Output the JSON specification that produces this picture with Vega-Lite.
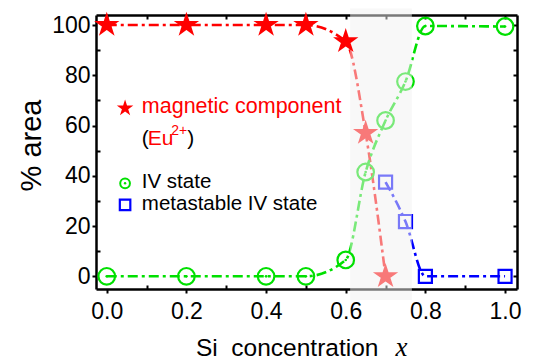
{
  "$schema": "https://vega.github.io/schema/vega-lite/v6.json",
  "width": 421,
  "height": 274,
  "autosize": {"type": "none"},
  "padding": {"left": 96, "top": 15, "right": 16, "bottom": 71},
  "background": "white",
  "config": {
    "view": {"stroke": null},
    "font": "Liberation Sans",
    "axis": {
      "grid": false,
      "zindex": 0,
      "labelFont": "Liberation Sans",
      "titleFont": "Liberation Sans",
      "labelColor": "#000000",
      "titleColor": "#000000",
      "tickColor": "#000000",
      "domainColor": "#000000",
      "labelFlush": false,
      "labelOverlap": false
    }
  },
  "datasets": {
    "fractions": [
      {"x": 0.0, "pct": 100, "series": "magnetic component"},
      {"x": 0.2, "pct": 100, "series": "magnetic component"},
      {"x": 0.4, "pct": 100, "series": "magnetic component"},
      {"x": 0.5, "pct": 100, "series": "magnetic component"},
      {"x": 0.6, "pct": 93.5, "series": "magnetic component"},
      {"x": 0.65, "pct": 57, "series": "magnetic component"},
      {"x": 0.7, "pct": 0, "series": "magnetic component"},
      {"x": 0.0, "pct": 0, "series": "IV state"},
      {"x": 0.2, "pct": 0, "series": "IV state"},
      {"x": 0.4, "pct": 0, "series": "IV state"},
      {"x": 0.5, "pct": 0, "series": "IV state"},
      {"x": 0.6, "pct": 6.5, "series": "IV state"},
      {"x": 0.65, "pct": 41.5, "series": "IV state"},
      {"x": 0.7, "pct": 62, "series": "IV state"},
      {"x": 0.75, "pct": 77.5, "series": "IV state"},
      {"x": 0.8, "pct": 99.6, "series": "IV state"},
      {"x": 1.0, "pct": 99.4, "series": "IV state"},
      {"x": 0.7, "pct": 37.5, "series": "metastable IV state"},
      {"x": 0.75, "pct": 21.8, "series": "metastable IV state"},
      {"x": 0.8, "pct": 0, "series": "metastable IV state"},
      {"x": 1.0, "pct": 0, "series": "metastable IV state"}
    ]
  },
  "data": {"name": "fractions"},
  "resolve": {"axis": {"x": "independent", "y": "independent"}},
  "layer": [
    {
      "mark": {"type": "line", "interpolate": "monotone", "strokeWidth": 2.6, "strokeDash": [10, 4, 3, 4]},
      "encoding": {
        "x": {
          "field": "x", "type": "quantitative",
          "scale": {"domain": [-0.027, 1.03], "nice": false, "zero": false},
          "axis": {
            "orient": "bottom", "values": [0, 0.2, 0.4, 0.6, 0.8, 1.0], "format": ".1f",
            "labelFontSize": 23, "labelPadding": 7, "tickSize": 4, "tickWidth": 2, "domainWidth": 2.5,
            "title": "Si\u00a0\u00a0concentration", "titleFontSize": 24.5, "titleFontWeight": "normal",
            "titleX": 190.7, "titleY": 66, "titleBaseline": "alphabetic", "titleAlign": "center"
          }
        },
        "y": {
          "field": "pct", "type": "quantitative",
          "scale": {"domain": [-5.05, 103.98], "nice": false, "zero": false},
          "axis": {
            "orient": "left", "values": [0, 20, 40, 60, 80, 100], "format": "d",
            "labelFontSize": 23, "labelPadding": 2, "tickSize": 4, "tickWidth": 2, "domainWidth": 2.5,
            "title": "% area", "titleFontSize": 29, "titleFontWeight": "normal", "titleAngle": -90,
            "titleX": -56, "titleY": 130, "titleBaseline": "alphabetic", "titleAlign": "center"
          }
        },
        "color": {
          "field": "series", "type": "nominal",
          "scale": {"domain": ["magnetic component", "IV state", "metastable IV state"], "range": ["#ff0000", "#00e000", "#0000ff"]},
          "legend": null
        }
      }
    },
    {
      "transform": [{"filter": "datum.x > 0.62 && datum.x < 0.76"}],
      "mark": {"type": "point", "strokeWidth": 2.2, "opacity": 1},
      "encoding": {
        "x": {
          "field": "x", "type": "quantitative",
          "scale": {"domain": [-0.027, 1.03], "nice": false, "zero": false},
          "axis": {
            "orient": "top", "values": [0, 0.1, 0.2, 0.3, 0.4, 0.5, 0.6, 0.7, 0.8, 0.9, 1.0],
            "labels": false, "tickSize": -4, "tickWidth": 2, "domainWidth": 2.5, "title": null
          }
        },
        "y": {
          "field": "pct", "type": "quantitative",
          "scale": {"domain": [-5.05, 103.98], "nice": false, "zero": false},
          "axis": {
            "orient": "right", "values": [0, 10, 20, 30, 40, 50, 60, 70, 80, 90, 100],
            "labels": false, "tickSize": -4, "tickWidth": 2, "domainWidth": 2.5, "title": null
          }
        },
        "shape": {
          "field": "series", "type": "nominal",
          "scale": {"domain": ["magnetic component", "IV state", "metastable IV state"], "range": ["M0,-1L0.2245,-0.309L0.951,-0.309L0.363,0.118L0.588,0.809L0,0.382L-0.588,0.809L-0.363,0.118L-0.951,-0.309L-0.2245,-0.309Z", "circle", "square"]},
          "legend": null
        },
        "size": {
          "field": "series", "type": "nominal",
          "scale": {"domain": ["magnetic component", "IV state", "metastable IV state"], "range": [380, 170, 190]},
          "legend": null
        },
        "stroke": {
          "field": "series", "type": "nominal",
          "scale": {"domain": ["magnetic component", "IV state", "metastable IV state"], "range": ["#ff0000", "#00e000", "#0000ff"]},
          "legend": null
        },
        "fill": {
          "field": "series", "type": "nominal",
          "scale": {"domain": ["magnetic component", "IV state", "metastable IV state"], "range": ["#ff0000", "transparent", "transparent"]},
          "legend": null
        }
      }
    },
    {
      "transform": [{"filter": "datum.x > 0.62 && datum.x < 0.76 && datum.series == 'IV state'"}],
      "mark": {"type": "circle", "size": 7, "color": "#00e000", "opacity": 1},
      "encoding": {
        "x": {
          "field": "x", "type": "quantitative",
          "scale": {"domain": [-0.027, 1.03], "nice": false, "zero": false},
          "axis": {
            "orient": "bottom", "values": [0.1, 0.3, 0.5, 0.7, 0.9], "labels": false, "domain": false,
            "tickSize": -4, "tickWidth": 2,
            "title": "x", "titleFont": "Liberation Serif", "titleFontStyle": "italic", "titleFontSize": 27,
            "titleFontWeight": "normal", "titleX": 305, "titleY": 66, "titleBaseline": "alphabetic", "titleAlign": "center"
          }
        },
        "y": {
          "field": "pct", "type": "quantitative",
          "scale": {"domain": [-5.05, 103.98], "nice": false, "zero": false},
          "axis": {
            "orient": "left", "values": [10, 30, 50, 70, 90], "labels": false, "domain": false,
            "tickSize": -4, "tickWidth": 2, "title": null
          }
        }
      }
    },
    {
      "data": {"values": [{}]},
      "mark": {"type": "rect", "color": "#f2f2f2", "opacity": 0.5, "clip": false},
      "encoding": {
        "x": {"datum": 0.611, "type": "quantitative", "scale": {"domain": [-0.027, 1.03], "nice": false, "zero": false}, "axis": null},
        "x2": {"datum": 0.766},
        "y": {"datum": 106.6, "type": "quantitative", "scale": {"domain": [-5.05, 103.98], "nice": false, "zero": false}, "axis": null},
        "y2": {"datum": -9.4}
      }
    },
    {
      "transform": [{"filter": "datum.x < 0.62 || datum.x > 0.76"}],
      "mark": {"type": "point", "strokeWidth": 2.2, "opacity": 1},
      "encoding": {
        "x": {"field": "x", "type": "quantitative", "scale": {"domain": [-0.027, 1.03], "nice": false, "zero": false}, "axis": null},
        "y": {"field": "pct", "type": "quantitative", "scale": {"domain": [-5.05, 103.98], "nice": false, "zero": false}, "axis": null},
        "shape": {
          "field": "series", "type": "nominal",
          "scale": {"domain": ["magnetic component", "IV state", "metastable IV state"], "range": ["M0,-1L0.2245,-0.309L0.951,-0.309L0.363,0.118L0.588,0.809L0,0.382L-0.588,0.809L-0.363,0.118L-0.951,-0.309L-0.2245,-0.309Z", "circle", "square"]},
          "legend": null
        },
        "size": {
          "field": "series", "type": "nominal",
          "scale": {"domain": ["magnetic component", "IV state", "metastable IV state"], "range": [380, 170, 190]},
          "legend": null
        },
        "stroke": {
          "field": "series", "type": "nominal",
          "scale": {"domain": ["magnetic component", "IV state", "metastable IV state"], "range": ["#ff0000", "#00e000", "#0000ff"]},
          "legend": null
        },
        "fill": {
          "field": "series", "type": "nominal",
          "scale": {"domain": ["magnetic component", "IV state", "metastable IV state"], "range": ["#ff0000", "transparent", "transparent"]},
          "legend": null
        }
      }
    },
    {
      "transform": [{"filter": "(datum.x < 0.62 || datum.x > 0.76) && datum.series == 'IV state'"}],
      "mark": {"type": "circle", "size": 7, "color": "#00e000", "opacity": 1},
      "encoding": {
        "x": {"field": "x", "type": "quantitative", "scale": {"domain": [-0.027, 1.03], "nice": false, "zero": false}, "axis": null},
        "y": {"field": "pct", "type": "quantitative", "scale": {"domain": [-5.05, 103.98], "nice": false, "zero": false}, "axis": null}
      }
    },
    {
      "data": {"values": [{}]},
      "mark": {"type": "point", "shape": "M0,-1L0.2245,-0.309L0.951,-0.309L0.363,0.118L0.588,0.809L0,0.382L-0.588,0.809L-0.363,0.118L-0.951,-0.309L-0.2245,-0.309Z", "size": 300, "filled": true, "color": "#ff0000", "opacity": 1},
      "encoding": {
        "x": {"datum": 0.046, "type": "quantitative", "scale": {"domain": [-0.027, 1.03], "nice": false, "zero": false}, "axis": null},
        "y": {"datum": 66.9, "type": "quantitative", "scale": {"domain": [-5.05, 103.98], "nice": false, "zero": false}, "axis": null}
      }
    },
    {
      "data": {"values": [{}]},
      "mark": {"type": "point", "shape": "circle", "size": 95, "filled": false, "color": "#00e000", "strokeWidth": 2, "opacity": 1},
      "encoding": {
        "x": {"datum": 0.046, "type": "quantitative", "scale": {"domain": [-0.027, 1.03], "nice": false, "zero": false}, "axis": null},
        "y": {"datum": 37.0, "type": "quantitative", "scale": {"domain": [-5.05, 103.98], "nice": false, "zero": false}, "axis": null}
      }
    },
    {
      "data": {"values": [{}]},
      "mark": {"type": "circle", "size": 6, "color": "#00e000", "opacity": 1},
      "encoding": {
        "x": {"datum": 0.046, "type": "quantitative", "scale": {"domain": [-0.027, 1.03], "nice": false, "zero": false}, "axis": null},
        "y": {"datum": 37.0, "type": "quantitative", "scale": {"domain": [-5.05, 103.98], "nice": false, "zero": false}, "axis": null}
      }
    },
    {
      "data": {"values": [{}]},
      "mark": {"type": "point", "shape": "square", "size": 110, "filled": false, "color": "#0000ff", "strokeWidth": 2.2, "opacity": 1},
      "encoding": {
        "x": {"datum": 0.046, "type": "quantitative", "scale": {"domain": [-0.027, 1.03], "nice": false, "zero": false}, "axis": null},
        "y": {"datum": 28.4, "type": "quantitative", "scale": {"domain": [-5.05, 103.98], "nice": false, "zero": false}, "axis": null}
      }
    },
    {
      "data": {"values": [{}]},
      "mark": {"type": "text", "align": "left", "baseline": "alphabetic", "fontSize": 21.5, "color": "#ff0000"},
      "encoding": {
        "x": {"datum": 0.088, "type": "quantitative", "scale": {"domain": [-0.027, 1.03], "nice": false, "zero": false}, "axis": null},
        "y": {"datum": 64.9, "type": "quantitative", "scale": {"domain": [-5.05, 103.98], "nice": false, "zero": false}, "axis": null},
        "text": {"value": "magnetic component"}
      }
    },
    {
      "data": {"values": [{}]},
      "mark": {"type": "text", "align": "left", "baseline": "alphabetic", "fontSize": 21, "color": "#000000"},
      "encoding": {
        "x": {"datum": 0.088, "type": "quantitative", "scale": {"domain": [-0.027, 1.03], "nice": false, "zero": false}, "axis": null},
        "y": {"datum": 52.2, "type": "quantitative", "scale": {"domain": [-5.05, 103.98], "nice": false, "zero": false}, "axis": null},
        "text": {"value": "("}
      }
    },
    {
      "data": {"values": [{}]},
      "mark": {"type": "text", "align": "left", "baseline": "alphabetic", "fontSize": 21, "color": "#ff0000"},
      "encoding": {
        "x": {"datum": 0.1029, "type": "quantitative", "scale": {"domain": [-0.027, 1.03], "nice": false, "zero": false}, "axis": null},
        "y": {"datum": 52.2, "type": "quantitative", "scale": {"domain": [-5.05, 103.98], "nice": false, "zero": false}, "axis": null},
        "text": {"value": "Eu"}
      }
    },
    {
      "data": {"values": [{}]},
      "mark": {"type": "text", "align": "left", "baseline": "alphabetic", "fontSize": 14, "color": "#ff0000"},
      "encoding": {
        "x": {"datum": 0.162, "type": "quantitative", "scale": {"domain": [-0.027, 1.03], "nice": false, "zero": false}, "axis": null},
        "y": {"datum": 56.2, "type": "quantitative", "scale": {"domain": [-5.05, 103.98], "nice": false, "zero": false}, "axis": null},
        "text": {"value": "2+"}
      }
    },
    {
      "data": {"values": [{}]},
      "mark": {"type": "text", "align": "left", "baseline": "alphabetic", "fontSize": 21, "color": "#000000"},
      "encoding": {
        "x": {"datum": 0.2024, "type": "quantitative", "scale": {"domain": [-0.027, 1.03], "nice": false, "zero": false}, "axis": null},
        "y": {"datum": 52.2, "type": "quantitative", "scale": {"domain": [-5.05, 103.98], "nice": false, "zero": false}, "axis": null},
        "text": {"value": ")"}
      }
    },
    {
      "data": {"values": [{}]},
      "mark": {"type": "text", "align": "left", "baseline": "alphabetic", "fontSize": 20.5, "color": "#000000"},
      "encoding": {
        "x": {"datum": 0.088, "type": "quantitative", "scale": {"domain": [-0.027, 1.03], "nice": false, "zero": false}, "axis": null},
        "y": {"datum": 35.0, "type": "quantitative", "scale": {"domain": [-5.05, 103.98], "nice": false, "zero": false}, "axis": null},
        "text": {"value": "IV state"}
      }
    },
    {
      "data": {"values": [{}]},
      "mark": {"type": "text", "align": "left", "baseline": "alphabetic", "fontSize": 20.5, "color": "#000000"},
      "encoding": {
        "x": {"datum": 0.088, "type": "quantitative", "scale": {"domain": [-0.027, 1.03], "nice": false, "zero": false}, "axis": null},
        "y": {"datum": 26.4, "type": "quantitative", "scale": {"domain": [-5.05, 103.98], "nice": false, "zero": false}, "axis": null},
        "text": {"value": "metastable IV state"}
      }
    }
  ]
}
